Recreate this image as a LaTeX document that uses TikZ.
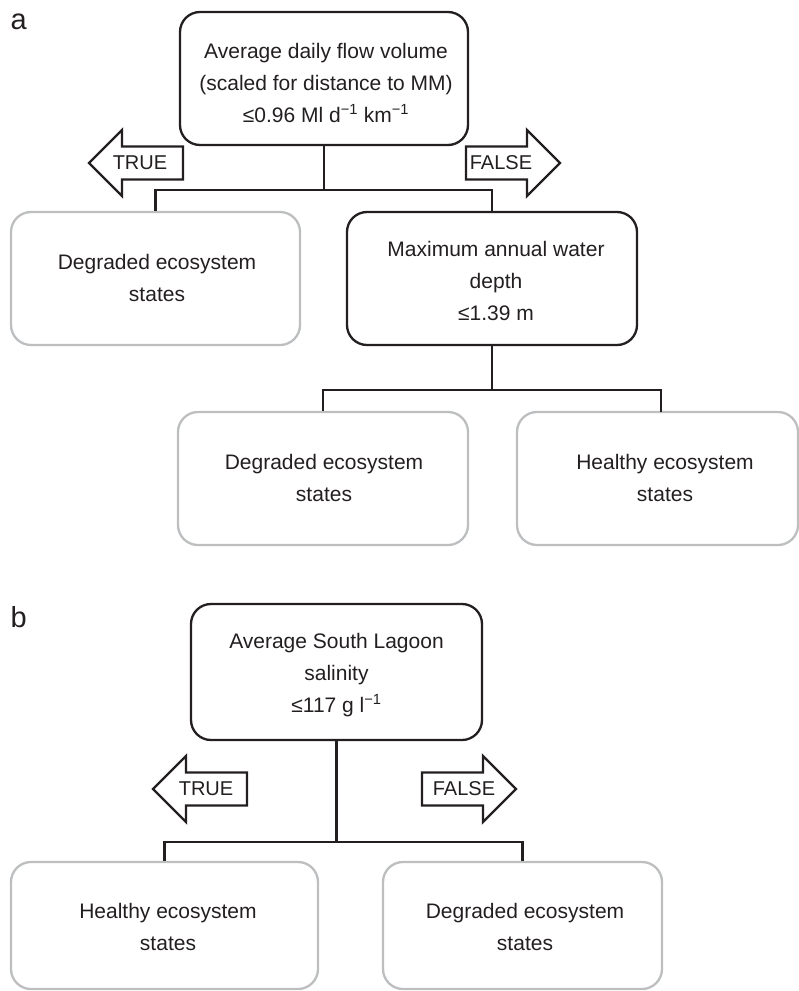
\documentclass[tikz,border=0pt]{standalone}
\usepackage{fontspec}
\setmainfont{Liberation Sans}
\definecolor{ink}{HTML}{231F20}
\definecolor{boxgray}{HTML}{BCBEC0}
\begin{document}
\begin{tikzpicture}[x=1pt,y=-1pt,
  decisionbox/.style={draw=ink,line width=2.3pt,rounded corners=20pt,inner sep=0pt},
  leafbox/.style={draw=boxgray,line width=2.3pt,rounded corners=20pt,inner sep=0pt},
  boxtext/.style={align=center,text=ink,font=\fontsize{21}{32}\selectfont,inner sep=0pt},
  arrowtext/.style={text=ink,font=\fontsize{20}{24}\selectfont,inner sep=0pt},
  arrowshape/.style={draw=ink,line width=2.3pt,line join=miter,fill=white},
  connector/.style={draw=ink,line width=2.3pt},
  paneltag/.style={text=ink,font=\fontsize{29}{34}\selectfont,inner sep=0pt,anchor=base west}]
\useasboundingbox (0,0) rectangle (799,991);

% panel labels
\node[paneltag] (tagA) at (10.5,29.5) {a};
\node[paneltag] (tagB) at (10.5,627) {b};

% ---------- panel a ----------
\node[decisionbox,minimum width=288pt,minimum height=133pt] (topA) at (324,78.5) {};
\node[boxtext] (topAtext) at (326,83) {Average daily flow volume\\(scaled for distance to MM)\\≤0.96 Ml d\textsuperscript{−1} km\textsuperscript{−1}};

\node[leafbox,minimum width=289pt,minimum height=133pt] (degA1) at (155.5,278.5) {};
\node[boxtext] (degA1text) at (157,278) {Degraded ecosystem\\states};

\node[decisionbox,minimum width=290pt,minimum height=133pt] (maxA) at (492,278.5) {};
\node[boxtext] (maxAtext) at (496,281) {Maximum annual water\\depth\\≤1.39 m};

\node[leafbox,minimum width=290pt,minimum height=133pt] (degA2) at (323,478.5) {};
\node[boxtext] (degA2text) at (324,478) {Degraded ecosystem\\states};

\node[leafbox,minimum width=281pt,minimum height=133pt] (healthyA) at (657.5,478.5) {};
\node[boxtext] (healthyAtext) at (665,478) {Healthy ecosystem\\states};

\coordinate (healthyAin) at (661,412);

\draw[connector] (topA.south) -- ++(0,44) -| (degA1.north);
\draw[connector] (topA.south) ++(0,44) -| (maxA.north);
\draw[connector] (maxA.south) -- ++(0,44) -| (degA2.north);
\draw[connector] (maxA.south) ++(0,44) -| (healthyAin);

\draw[arrowshape] (89,163) -- (122,130) -- (122,146.5) -- (183,146.5) -- (183,179.5) -- (122,179.5) -- (122,196) -- cycle;
\node[arrowtext] (trueA) at (140,163) {TRUE};
\draw[arrowshape] (560,163) -- (527,130) -- (527,146.5) -- (466,146.5) -- (466,179.5) -- (527,179.5) -- (527,196) -- cycle;
\node[arrowtext] (falseA) at (501,163) {FALSE};

% ---------- panel b ----------
\node[decisionbox,minimum width=291pt,minimum height=136pt] (topB) at (336.5,672) {};
\node[boxtext] (topBtext) at (336.5,675) {Average South Lagoon\\salinity\\≤117 g l\textsuperscript{−1}};

\node[leafbox,minimum width=307pt,minimum height=127pt] (healthyB) at (164.5,925.5) {};
\node[boxtext] (healthyBtext) at (168,927) {Healthy ecosystem\\states};

\node[leafbox,minimum width=279pt,minimum height=127pt] (degB) at (522.5,925.5) {};
\node[boxtext] (degBtext) at (525,927) {Degraded ecosystem\\states};

\draw[connector] (topB.south) -- ++(0,101) -| (healthyB.north);
\draw[connector] (topB.south) ++(0,101) -| (degB.north);

\draw[arrowshape] (153,789) -- (186,756) -- (186,772.5) -- (247,772.5) -- (247,805.5) -- (186,805.5) -- (186,822) -- cycle;
\node[arrowtext] (trueB) at (206,789) {TRUE};
\draw[arrowshape] (516,789) -- (483,756) -- (483,772.5) -- (422,772.5) -- (422,805.5) -- (483,805.5) -- (483,822) -- cycle;
\node[arrowtext] (falseB) at (464,789) {FALSE};
\end{tikzpicture}
\end{document}
